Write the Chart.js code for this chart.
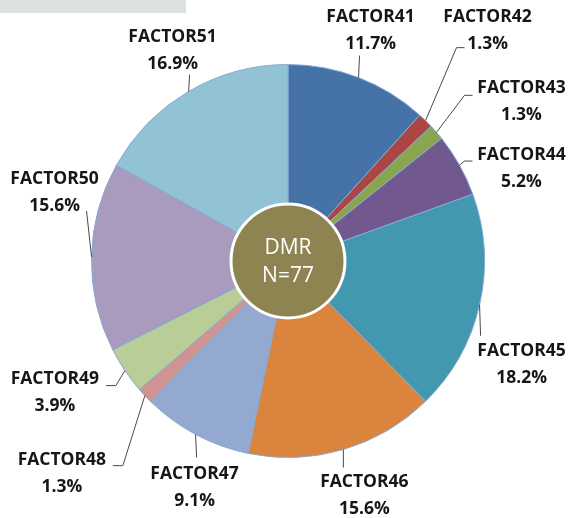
<!DOCTYPE html>
<html>
<head>
<meta charset="utf-8">
<script src="https://cdn.jsdelivr.net/npm/chart.js@4.4.1/dist/chart.umd.min.js"></script>
<style>
  html, body { margin:0; padding:0; background:#fff; }
  #wrap { position:relative; width:571px; height:518px; }
  #bar { position:absolute; left:0; top:0; width:186px; height:13px; background:#dee1e1; }
  canvas { position:absolute; left:0; top:0; }
</style>
</head>
<body>
<div id="wrap">
  <canvas id="pie" width="571" height="518"></canvas>
  <div id="bar"></div>
</div>
<script>
// DMR factors, counts out of the sample
const factors = ['FACTOR41','FACTOR42','FACTOR43','FACTOR44','FACTOR45','FACTOR46',
                 'FACTOR47','FACTOR48','FACTOR49','FACTOR50','FACTOR51'];
const counts  = [9, 1, 1, 4, 14, 12, 7, 1, 3, 12, 13];
const colors  = ['#4572a7','#aa4643','#89a54e','#71588f','#4198af','#db843d',
                 '#93a9cf','#d19392','#b9cd96','#a99bbd','#92c3d4'];
const centerTitle = 'DMR';

// label block offset from the slice's outer-edge midpoint, plus leader path
const labelLayout = [
  { at:[12,-48],  path:[[1,-22]] },
  { at:[62,-91],  path:[[31,-73],[39,-73]] },
  { at:[85,-31],  path:[[28,-37],[36,-37]] },
  { at:[62,3],    path:[[5,-4],[13,-4]] },
  { at:[42,59],   path:[[1,31]] },
  { at:[21,45],   path:[[0,18]] },
  { at:[-1,53],   path:[[1,23]] },
  { at:[-83,77],  path:[[-22,70],[-32,70]] },
  { at:[-70,21],  path:[[-9,15],[-19,15]] },
  { at:[-37,-65], path:[[-5,-46]] },
  { at:[-16,-41], path:[[1,-17]] }
];

const total = counts.reduce((a, b) => a + b, 0);
const pct = v => (v / total * 100).toFixed(1) + '%';

const labelsPlugin = {
  id: 'factorLabels',
  afterDatasetsDraw(chart) {
    const ctx = chart.ctx;
    const meta = chart.getDatasetMeta(0);
    ctx.save();
    meta.data.forEach((arc, i) => {
      const mid = (arc.startAngle + arc.endAngle) / 2;
      const ax = arc.x + Math.cos(mid) * arc.outerRadius;
      const ay = arc.y + Math.sin(mid) * arc.outerRadius;
      const lay = labelLayout[i];
      ctx.strokeStyle = '#4a4a4a';
      ctx.lineWidth = 1;
      ctx.beginPath();
      ctx.moveTo(ax, ay);
      lay.path.forEach(p => ctx.lineTo(ax + p[0], ay + p[1]));
      ctx.stroke();
      const lx = ax + lay.at[0], ly = ay + lay.at[1];
      ctx.fillStyle = '#161616';
      ctx.font = 'bold 17.5px "Open Sans"';
      ctx.textAlign = 'center';
      ctx.textBaseline = 'middle';
      ctx.fillText(factors[i], lx, ly - 13);
      ctx.fillText(pct(counts[i]), lx, ly + 14);
    });

    // centre disc with sample size
    const a0 = meta.data[0];
    const r = a0.outerRadius * 0.29;
    ctx.beginPath();
    ctx.arc(a0.x, a0.y, r, 0, Math.PI * 2);
    ctx.fillStyle = '#8e8451';
    ctx.fill();
    ctx.lineWidth = 3;
    ctx.strokeStyle = '#ffffff';
    ctx.stroke();
    ctx.fillStyle = '#ffffff';
    ctx.font = '21px "Open Sans"';
    ctx.fillText(centerTitle, a0.x, a0.y - 13);
    ctx.fillText('N=' + total, a0.x, a0.y + 15);
    ctx.restore();
  }
};

new Chart(document.getElementById('pie'), {
  type: 'pie',
  data: {
    labels: factors,
    datasets: [{
      data: counts,
      backgroundColor: colors,
      borderColor: '#86a9d6',
      borderWidth: 1
    }]
  },
  options: {
    responsive: false,
    animation: false,
    layout: { padding: { left: 91, right: 86, top: 64, bottom: 60 } },
    plugins: { legend: { display: false }, tooltip: { enabled: false } }
  },
  plugins: [labelsPlugin]
});
</script>
</body>
</html>
